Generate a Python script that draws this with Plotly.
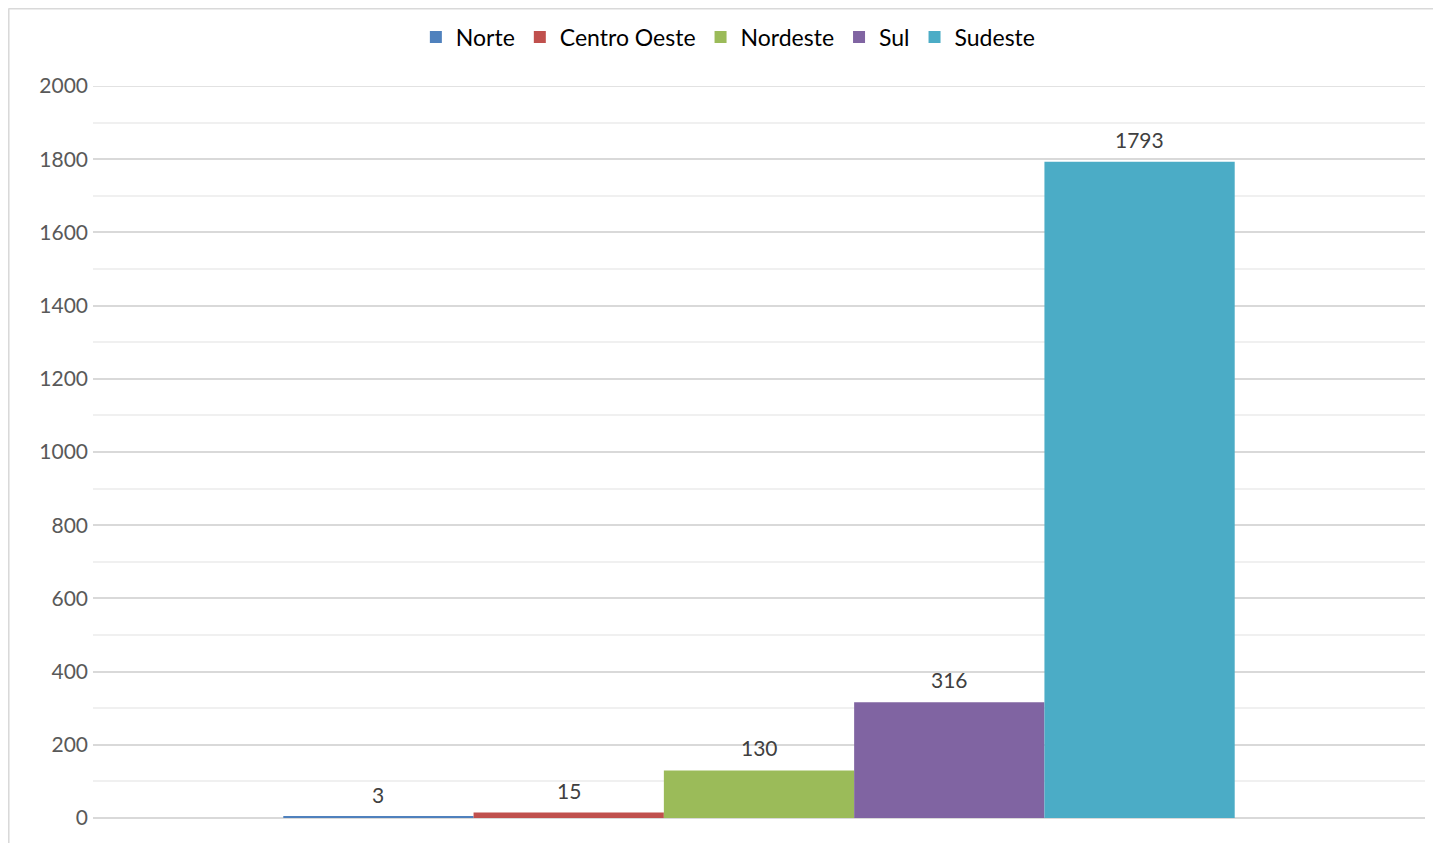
import plotly.graph_objects as go

regions = ["Norte", "Centro Oeste", "Nordeste", "Sul", "Sudeste"]
values = [3, 15, 130, 316, 1793]
colors = ["#4F81BD", "#C0504D", "#9BBB59", "#8064A2", "#4BACC6"]
y_ticks = list(range(0, 2001, 200))

fig = go.Figure()
for name, val, col in zip(regions, values, colors):
    fig.add_trace(go.Bar(
        x=[name], y=[val], name=name, width=1,
        marker=dict(color=col, line=dict(width=0)),
        cliponaxis=False,
    ))
    fig.add_annotation(x=name, y=val, text=str(val), showarrow=False,
                       yanchor="bottom", yshift=8,
                       font=dict(size=21, color="#404040", family="Lato"))

fig.update_layout(
    width=1433, height=835,
    margin=dict(l=85, r=16, t=78, b=25),
    paper_bgcolor="white", plot_bgcolor="white",
    barmode="overlay",
    font=dict(family="Lato", color="#595959"),
    showlegend=True,
    legend=dict(orientation="h", x=0.477, xanchor="center", y=0.9653, yanchor="middle",
                yref="container", font=dict(size=23, color="#000000"),
                itemwidth=30, traceorder="normal"),
    xaxis=dict(type="category", categoryorder="array", categoryarray=regions,
               range=[-1.5, 5.5], showticklabels=False, showgrid=False,
               zeroline=False, showline=False),
    yaxis=dict(range=[0, 2000], tickvals=y_ticks, showgrid=True, gridcolor="#D9D9D9",
               gridwidth=1.5, zeroline=True, zerolinecolor="#D9D9D9", zerolinewidth=1.5,
               tickfont=dict(size=21, color="#595959"), ticklabelstandoff=4,
               minor=dict(dtick=100, showgrid=True, gridcolor="#F0F0F0", gridwidth=1.5)),
    shapes=[
        dict(type="line", xref="paper", yref="y", x0=0, x1=1, y0=2000, y1=2000,
             line=dict(color="#D9D9D9", width=1.5), layer="below"),
        dict(type="line", xref="paper", yref="paper", x0=-0.0634, x1=-0.0634, y0=-0.05, y1=1.106,
             line=dict(color="#D9D9D9", width=2)),
        dict(type="line", xref="paper", yref="paper", x0=-0.0634, x1=1.02, y0=1.106, y1=1.106,
             line=dict(color="#D9D9D9", width=2)),
    ],
)
fig.write_html("out.html")
